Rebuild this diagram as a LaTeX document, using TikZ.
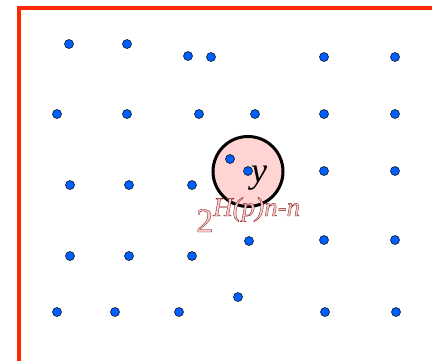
\documentclass[tikz,border=0pt]{standalone}
\usepackage{fontspec}
\setmainfont{Liberation Serif}
\usepackage{xcolor}
\definecolor{frame}{RGB}{255,40,0}
\definecolor{dotblue}{RGB}{0,95,255}
\definecolor{ballpink}{RGB}{255,212,210}
\definecolor{lblpink}{RGB}{250,205,205}
\newcommand{\outlined}[1]{\special{pdf:literal 2 Tr 0.35 w 0.5 0.1 0.1 RG}#1\special{pdf:literal 0 Tr 0 0 0 RG}}
\begin{document}
\begin{tikzpicture}[x=1pt,y=-1pt,
  pt/.style={circle,fill=dotblue,draw=black,line width=0.5pt,inner sep=0pt,minimum size=9pt}]
  \useasboundingbox (0,0) rectangle (432,360);
  \draw[frame,line width=4pt] (19,380)--(19,8)--(450,8);
  \node[circle,fill=ballpink,draw=black,line width=3pt,minimum size=70pt,inner sep=0pt] (ball) at (248,171.5) {};
  \foreach \x/\y [count=\i] in {69/44,127/44,188/56,211/57,324/57,395/57,
      57/114,127/114,199/114,255/114,324/114,395/114,
      70/185,129/185,192/185,230/159,248/171,324/171,395/171,
      70/256,129/256,192/256,249/241,324/240,395/240,
      57/312,115/312,179/312,238/297,325/312,396/312}
    \node[pt] (d\i) at (\x,\y) {};
  \node[anchor=base west,inner sep=0pt] (ylbl) at (251,182) {\fontsize{36}{36}\selectfont\itshape y};
  \node[anchor=base west,inner sep=0pt,text=lblpink] (size) at (196,232)
    {\outlined{\fontsize{34}{34}\selectfont 2\raisebox{16pt}{\fontsize{27}{27}\selectfont\itshape H(p)n-n}}};
\end{tikzpicture}
\end{document}
